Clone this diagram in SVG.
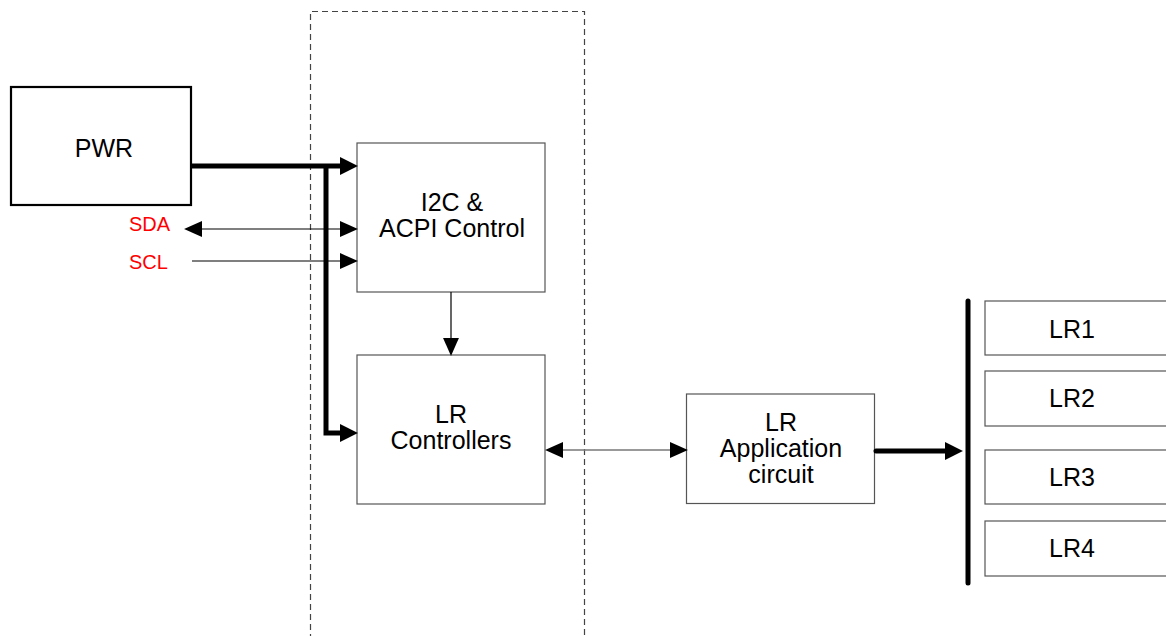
<svg xmlns="http://www.w3.org/2000/svg" width="1166" height="636" viewBox="0 0 1166 636">
<style>
.box{fill:none;stroke:#555;stroke-width:1.2}
.pwr{fill:none;stroke:#000;stroke-width:2.2}
.lbl{font-family:"Liberation Sans",Arial,sans-serif;font-size:25px;fill:#000;text-anchor:middle}
.sig{font-family:"Liberation Sans",Arial,sans-serif;font-size:20px;fill:#ff0000}
.thin{fill:none;stroke:#000;stroke-width:1.2}
.grey{fill:none;stroke:#777;stroke-width:1.6}
.thick{fill:none;stroke:#000;stroke-width:5}
</style>
<defs>
<marker id="ah" markerUnits="userSpaceOnUse" markerWidth="18" markerHeight="16" viewBox="0 0 17 15" refX="1" refY="7.5" orient="auto-start-reverse">
<path d="M0,0 L17,7.5 L0,15 z" fill="#000"/>
</marker>
<marker id="ahb" markerUnits="userSpaceOnUse" markerWidth="18" markerHeight="18" viewBox="0 0 17 17" refX="1" refY="8.5" orient="auto">
<path d="M0,0 L17,8.5 L0,17 z" fill="#000"/>
</marker>
</defs>
<rect width="1166" height="636" fill="#fff"/>
<g id="chip-boundary">
<path d="M310.5,640 V11.5 H584.5 V640" fill="none" stroke="#444" stroke-width="1.2" stroke-dasharray="6,4"/>
</g>
<g id="pwr">
<rect class="pwr" x="11" y="87" width="180" height="118"/>
<text class="lbl" x="104" y="157">PWR</text>
</g>
<g id="i2c">
<rect class="box" x="357" y="143" width="188" height="149"/>
<text class="lbl" x="452" y="211">I2C &amp;</text>
<text class="lbl" x="452" y="237">ACPI Control</text>
</g>
<g id="lrctrl">
<rect class="box" x="357" y="355" width="188" height="149"/>
<text class="lbl" x="451" y="423">LR</text>
<text class="lbl" x="451" y="449">Controllers</text>
</g>
<g id="lrapp">
<rect class="box" x="686.5" y="394" width="188" height="109.5"/>
<text class="lbl" x="781" y="431">LR</text>
<text class="lbl" x="781" y="457">Application</text>
<text class="lbl" x="781" y="483">circuit</text>
</g>
<g id="bus">
<line x1="968" y1="301" x2="968" y2="583" stroke="#000" stroke-width="5" stroke-linecap="round"/>
</g>
<g id="lr1">
<rect class="box" x="985" y="301" width="200" height="54"/>
<text class="lbl" x="1072" y="338">LR1</text>
</g>
<g id="lr2">
<rect class="box" x="985" y="371" width="200" height="55"/>
<text class="lbl" x="1072" y="407">LR2</text>
</g>
<g id="lr3">
<rect class="box" x="985" y="450" width="200" height="54"/>
<text class="lbl" x="1072" y="486">LR3</text>
</g>
<g id="lr4">
<rect class="box" x="985" y="521" width="200" height="55"/>
<text class="lbl" x="1072" y="557">LR4</text>
</g>
<g id="signals">
<text class="sig" x="129" y="231">SDA</text>
<text class="sig" x="129" y="269">SCL</text>
</g>
<g id="connectors">
<path class="thick" d="M191,166 H341" marker-end="url(#ahb)"/>
<path class="thick" d="M326,166 V433 H341" marker-end="url(#ahb)"/>
<path class="thin" d="M201,229 H341" marker-start="url(#ah)" marker-end="url(#ah)"/>
<path class="thin" d="M192,261 H341" marker-end="url(#ah)"/>
<path class="thin" d="M451,292 V339" marker-end="url(#ah)"/>
<path class="grey" d="M562,450 H671" marker-start="url(#ah)" marker-end="url(#ah)"/>
<path class="thick" d="M876,451 H946" stroke-linecap="round" marker-end="url(#ahb)"/>
</g>
</svg>
